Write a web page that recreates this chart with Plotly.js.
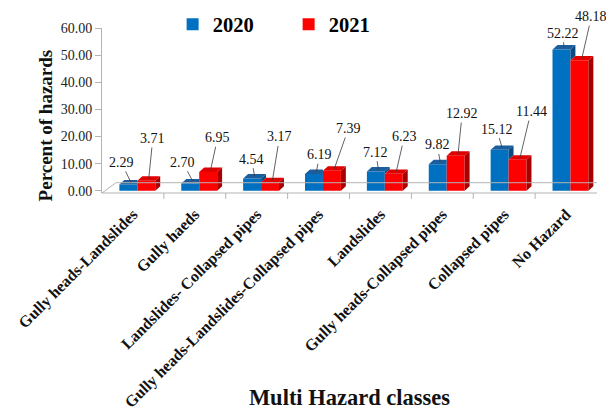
<!DOCTYPE html>
<html>
<head>
<meta charset="utf-8">
<script src="https://cdn.plot.ly/plotly-3.0.1.min.js"></script>
<style>
  html, body { margin: 0; padding: 0; background: #fff; }
  #chart { width: 606px; height: 410px; }
</style>
</head>
<body>
<div id="chart"></div>
<script>
// Multi hazard classes, share of hazards per year (%)
const categories = [
  'Gully heads-Landslides',
  'Gully haeds',
  'Landslides- Collapsed pipes',
  'Gully heads-Landslides-Collapsed pipes',
  'Landslides',
  'Gully heads-Collapsed pipes',
  'Collapsed pipes',
  'No Hazard'
];
const seriesNames = ['2020', '2021'];
const values2020 = [2.29, 2.70, 4.54, 6.19, 7.12, 9.82, 15.12, 52.22];
const values2021 = [3.71, 6.95, 3.17, 7.39, 6.23, 12.92, 11.44, 48.18];
const yTickValues = [0, 10, 20, 30, 40, 50, 60];

// ---- styling / geometry of the pseudo-3D columns ----
const FONT = 'Liberation Serif, "Times New Roman", serif';
const BAR_W = 0.29;          // column width in category units
const SHIFT = 0.071;         // the pair sits slightly right of the category centre
const DEPTH_X = 0.08;        // receding depth, category units
const DEPTH_Y = 1.62;        // receding depth, value units
const colors = {
  '2020': { front: '#0070C0', top: '#1B5E9E', side: '#0A4A82' },
  '2021': { front: '#FF0000', top: '#E00000', side: '#A80000' }
};
// label offsets (px) relative to the column top: [dx, dy]
const labelShift2020 = [[-9.5,-20],[-10,-19],[-3,-17],[3,-17],[-2.5,-17],[-3,-17],[-5.5,-18.5],[-1,-14]];
const labelShift2021 = [[4,-40],[7,-32],[7,-43],[14,-40],[8,-35],[4,-40],[11,-46],[9.5,-41.5]];

const idx = categories.map((_, i) => i);

function polyTrace(polys, color) {
  const xs = [], ys = [];
  polys.forEach(p => {
    p.forEach(pt => { xs.push(pt[0]); ys.push(pt[1]); });
    xs.push(null); ys.push(null);
  });
  return {
    type: 'scatter', mode: 'lines', x: xs, y: ys,
    fill: 'toself', fillcolor: color,
    line: { width: 0, color: color },
    hoverinfo: 'skip', showlegend: false
  };
}

// Top and side faces of the left (2020) columns; parts hidden by the 2021 column are left out
const topL = [], sideL = [], topR = [], sideR = [];
idx.forEach(i => {
  const b = values2020[i], r = values2021[i];
  const x0 = i + SHIFT - BAR_W, x1 = i + SHIFT, x2 = x1 + BAR_W;
  if (r > b) {
    topL.push([[x0, b], [x1, b], [x1, b + DEPTH_Y], [x0 + DEPTH_X, b + DEPTH_Y]]);
  } else {
    topL.push([[x0, b], [x1, b], [x1 + DEPTH_X, b + DEPTH_Y], [x0 + DEPTH_X, b + DEPTH_Y]]);
    sideL.push([[x1, r], [x1, b], [x1 + DEPTH_X, b + DEPTH_Y], [x1 + DEPTH_X, r + DEPTH_Y]]);
  }
  topR.push([[x1, r], [x2, r], [x2 + DEPTH_X, r + DEPTH_Y], [x1 + DEPTH_X, r + DEPTH_Y]]);
  sideR.push([[x2, 0], [x2, r], [x2 + DEPTH_X, r + DEPTH_Y], [x2 + DEPTH_X, DEPTH_Y]]);
});

const traces = [
  {
    type: 'bar', name: seriesNames[0], x: idx, y: values2020,
    width: BAR_W, offset: SHIFT - BAR_W,
    marker: { color: colors['2020'].front, line: { width: 0 } }, hoverinfo: 'skip'
  },
  {
    type: 'bar', name: seriesNames[1], x: idx, y: values2021,
    width: BAR_W, offset: SHIFT,
    marker: { color: colors['2021'].front, line: { width: 0 } }, hoverinfo: 'skip'
  },
  polyTrace(sideL, colors['2020'].side),
  polyTrace(topL, colors['2020'].top),
  polyTrace(sideR, colors['2021'].side),
  polyTrace(topR, colors['2021'].top)
];

// page frame: the axes occupy the lower part of the paper, the legend sits above them
const M = { l: 102.4, r: 8.8, t: 0, b: 216.7 };
const PAPER_H = 410 - M.t - M.b;          // 193.3 px
const PLOT_TOP = 28.4;                    // px from the top of the page
const PLOT_H = PAPER_H - PLOT_TOP;        // 164.9 px
const PLOT_W = 606 - M.l - M.r;

// value labels with leader lines
const annotations = [];
function addLabels(vals, xOff, shifts) {
  vals.forEach((v, i) => {
    annotations.push({
      x: i + xOff + BAR_W / 2 + DEPTH_X / 2, y: v + DEPTH_Y / 2,
      xref: 'x', yref: 'y',
      text: v.toFixed(2),
      showarrow: true, arrowhead: 0, arrowwidth: 0.8, arrowcolor: '#3a3a3a',
      ax: shifts[i][0], ay: shifts[i][1], standoff: 0,
      font: { family: FONT, size: 14, color: '#111' }
    });
  });
}
addLabels(values2020, SHIFT - BAR_W, labelShift2020);
addLabels(values2021, SHIFT, labelShift2021);

// y axis title
annotations.push({
  xref: 'paper', yref: 'paper',
  x: (46 - M.l) / PLOT_W, y: (PAPER_H - 126) / PAPER_H,
  xanchor: 'center', yanchor: 'middle', textangle: -90, showarrow: false,
  text: 'Percent of hazards',
  font: { family: FONT, size: 19, weight: 'bold', color: '#111' }
});

// floor of the 3D plot area and category separators
const GRAY = '#B4B4B4';
const floorBack = 10.3 / PLOT_H;
const floorDX = 14 / 61.85;
const shapes = [
  { type: 'line', xref: 'x', yref: 'y domain', x0: -0.5, y0: 0, x1: 7.5, y1: 0, line: { color: GRAY, width: 1 } },
  { type: 'line', xref: 'x', yref: 'y domain', x0: -0.5, y0: 0, x1: -0.5 + floorDX, y1: floorBack, line: { color: GRAY, width: 1 } },
  { type: 'line', xref: 'x', yref: 'y domain', x0: -0.5 + floorDX, y0: floorBack, x1: 7.5 + floorDX, y1: floorBack, line: { color: GRAY, width: 1 } },
  { type: 'line', xref: 'x', yref: 'y domain', x0: 7.5, y0: 0, x1: 7.5 + floorDX, y1: floorBack, line: { color: GRAY, width: 1 } }
];
for (let k = 1; k < categories.length; k++) {
  shapes.push({ type: 'line', xref: 'x', yref: 'y domain', x0: k - 0.5, y0: 0, x1: k - 0.5, y1: -6 / PLOT_H, line: { color: GRAY, width: 1 } });
}

const layout = {
  width: 606, height: 410,
  margin: { l: M.l, r: M.r, t: M.t, b: M.b, pad: 0 },
  paper_bgcolor: '#fff', plot_bgcolor: '#fff',
  font: { family: FONT, color: '#111' },
  barmode: 'overlay',
  showlegend: true,
  legend: {
    orientation: 'h',
    x: (173 - M.l) / PLOT_W, y: (PAPER_H - 24.5) / PAPER_H, xanchor: 'left', yanchor: 'middle',
    entrywidth: 71, font: { family: FONT, size: 20.5, weight: 'bold', color: '#000' },
    bgcolor: 'rgba(0,0,0,0)'
  },
  xaxis: {
    range: [-0.5, 7.5], tickmode: 'array', tickvals: idx, ticktext: categories,
    tickangle: -45, ticks: '', showline: false, showgrid: false, zeroline: false,
    tickfont: { family: FONT, size: 16, weight: 'bold', color: '#111' },
    ticklabelstandoff: 8,
    title: { text: 'Multi Hazard classes', font: { family: FONT, size: 22.5, weight: 'bold', color: '#111' }, standoff: 4 },
    automargin: false, fixedrange: true
  },
  yaxis: {
    domain: [0, PLOT_H / PAPER_H],
    range: [-0.85, 60], tickmode: 'array', tickvals: yTickValues, tickformat: '.2f',
    showline: true, linecolor: GRAY, linewidth: 1, ticks: 'outside', ticklen: 6, tickcolor: GRAY,
    showgrid: false, zeroline: false,
    tickfont: { family: FONT, size: 14, color: '#222' },
    automargin: false, fixedrange: true
  },
  shapes: shapes,
  annotations: annotations
};

Plotly.newPlot('chart', traces, layout, { staticPlot: true, displayModeBar: false });
</script>
</body>
</html>
